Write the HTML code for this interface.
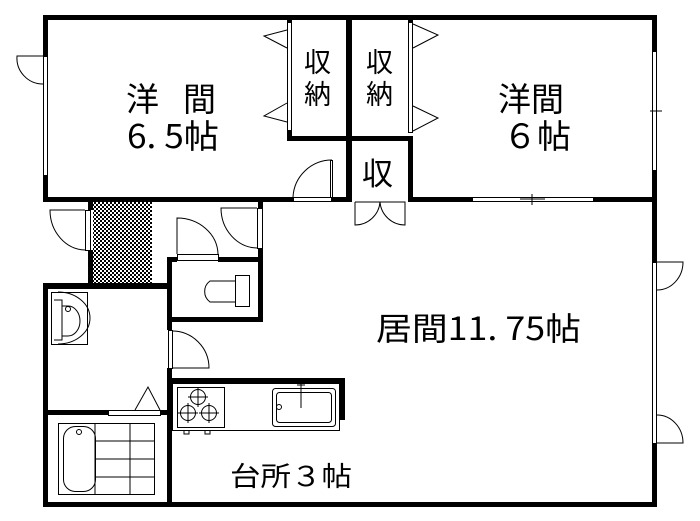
<!DOCTYPE html>
<html><head><meta charset="utf-8"><style>
html,body{margin:0;padding:0;background:#fff;width:700px;height:521px;overflow:hidden}
svg{display:block}
text{font-family:"Noto Sans CJK JP","Liberation Sans",sans-serif;fill:#000}
</style></head><body>
<svg width="700" height="521" viewBox="0 0 700 521" xmlns="http://www.w3.org/2000/svg">
<defs>
<pattern id="chk" width="4" height="4" patternUnits="userSpaceOnUse">
<rect width="4" height="4" fill="#fff"/><rect width="2" height="2" fill="#000"/><rect x="2" y="2" width="2" height="2" fill="#000"/>
</pattern>
</defs>
<rect x="93" y="202" width="59" height="83" fill="url(#chk)"/>
<g fill="#000">
<rect x="43" y="15" width="614" height="5"/>
<rect x="43" y="15" width="5" height="187"/>
<rect x="43" y="197" width="250" height="5"/>
<rect x="332" y="197" width="20" height="5"/>
<rect x="287" y="136" width="63" height="5"/>
<rect x="287" y="20" width="5" height="121"/>
<rect x="346" y="15" width="6" height="187"/>
<rect x="346" y="136" width="66" height="5"/>
<rect x="408" y="136" width="5" height="66"/>
<rect x="408" y="20" width="5" height="3"/>
<rect x="408" y="197" width="64" height="5"/>
<rect x="593" y="197" width="64" height="5"/>
<rect x="652" y="15" width="5" height="36"/>
<rect x="652" y="170" width="5" height="92"/>
<rect x="652" y="443" width="5" height="64"/>
<rect x="43" y="502" width="614" height="5"/>
<rect x="88" y="200" width="5" height="10"/>
<rect x="88" y="250" width="5" height="35"/>
<rect x="43" y="283" width="129" height="6"/>
<rect x="43" y="283" width="5" height="224"/>
<rect x="43" y="410" width="65" height="5"/>
<rect x="160" y="410" width="12" height="5"/>
<rect x="167" y="257" width="5" height="73"/>
<rect x="167" y="368" width="5" height="139"/>
<rect x="167" y="257" width="10" height="5"/>
<rect x="218" y="257" width="45" height="5"/>
<rect x="258" y="202" width="5" height="6"/>
<rect x="258" y="248" width="5" height="74"/>
<rect x="167" y="317" width="96" height="5"/>
<rect x="167" y="378" width="178" height="5"/>
<rect x="340" y="378" width="5" height="42"/>
</g>
<g fill="none" stroke="#000" stroke-width="1">
<rect x="43.5" y="56.5" width="4" height="119" fill="#fff"/>
<path d="M43 56 H17 A26 26 0 0 0 43 84"/>
<rect x="287.5" y="22.5" width="4" height="108" fill="#fff"/>
<path d="M287 30 L264 36 L287 48 M287 103 L264 116 L287 122"/>
<rect x="408.5" y="22.5" width="4" height="110" fill="#fff"/>
<path d="M413 24 L438 35 L413 48 M413 106 L438 118 L413 131"/>
<rect x="652.5" y="51.5" width="4" height="119" fill="#fff"/>
<path d="M650 111 H662"/>
<rect x="472.5" y="197.5" width="121" height="4" fill="#fff"/>
<path d="M532 194 V205 M520 199 H545"/>
<rect x="293.5" y="197.5" width="38" height="4" fill="#fff"/>
<rect x="330.5" y="160.5" width="2" height="37"/>
<path d="M293 197 A39 39 0 0 1 332 160"/>
<path d="M355 202 V225 A25 25 0 0 0 380 202 A25 25 0 0 0 405 225 V202 H355"/>
<rect x="85.5" y="210.5" width="5" height="40" fill="#fff"/>
<path d="M85 210 H50 A36 40 0 0 0 85 250"/>
<rect x="177.5" y="254.5" width="41" height="6" fill="#fff"/>
<path d="M177 254 V218 A41 37 0 0 1 218 254"/>
<rect x="257.5" y="208.5" width="5" height="40" fill="#fff"/>
<path d="M257 208 H221 A37 40 0 0 0 257 248"/>
<rect x="235.5" y="275.5" width="14" height="31"/>
<path d="M235 281 H210 A13 13 0 0 0 210 302 H235"/>
<rect x="168.5" y="330.5" width="4" height="38" fill="#fff"/>
<path d="M172 331 A37 37 0 0 1 209 368 H172"/>
<rect x="51.5" y="292.5" width="36" height="52"/>
<path d="M58 292 A32 26 0 0 1 58 344 M54 300 H62 V340 H54 M62 306 H68 A12 15 0 0 1 68 336 H62"/>
<circle cx="68" cy="309" r="2.5"/>
<rect x="108.5" y="410.5" width="52" height="5" fill="#fff"/>
<path d="M135 410 L148 387 L160 410"/>
<rect x="58.5" y="423.5" width="96" height="71"/>
<rect x="63.5" y="426.5" width="32" height="65" rx="12"/>
<circle cx="79" cy="432" r="2.5"/>
<path d="M95 423 V494 M130 423 V494 M95 441 H155 M95 459 H155 M95 477 H155"/>
<rect x="172.5" y="383.5" width="167" height="47"/>
<rect x="177.5" y="387.5" width="47" height="40"/>
<circle cx="198" cy="397" r="7.5"/><circle cx="188" cy="413" r="7.5"/><circle cx="209" cy="413" r="7.5"/>
<path d="M198 387 V407 M188 397 H208 M178 413 H198 M188 403 V423 M199 413 H219 M209 403 V423"/>
<rect x="272.5" y="388.5" width="63" height="38" rx="3"/>
<rect x="276.5" y="392.5" width="55" height="30" rx="3"/>
<circle cx="279" cy="407" r="2.5"/>
<path d="M301 384 V408 M297 385 H305"/>
<path d="M184 431 V434 H189 V431 M205 431 V434 H210 V431"/>
<rect x="652.5" y="262.5" width="4" height="181" fill="#fff"/>
<path d="M657 262 H683 A26 28 0 0 1 657 290 M657 443 H683 A26 28 0 0 0 657 415"/>
</g>
<g font-size="33">
<text x="126" y="111">洋</text><text x="183" y="111">間</text>
<text x="127" y="148" textLength="92" lengthAdjust="spacingAndGlyphs">6. 5帖</text>
<text x="498" y="111">洋間</text>
<text x="503" y="148" textLength="68" lengthAdjust="spacingAndGlyphs">６帖</text>
<text x="376" y="340" font-size="32" textLength="205" lengthAdjust="spacingAndGlyphs">居間11. 75帖</text>
</g>
<g font-size="27">
<text x="304" y="72">収</text><text x="304" y="104">納</text>
<text x="366" y="72">収</text><text x="366" y="104">納</text>
<text x="362" y="185" font-size="31">収</text>
<text x="230" y="486" textLength="122" lengthAdjust="spacingAndGlyphs">台所３帖</text>
</g>
</svg>
</body></html>
